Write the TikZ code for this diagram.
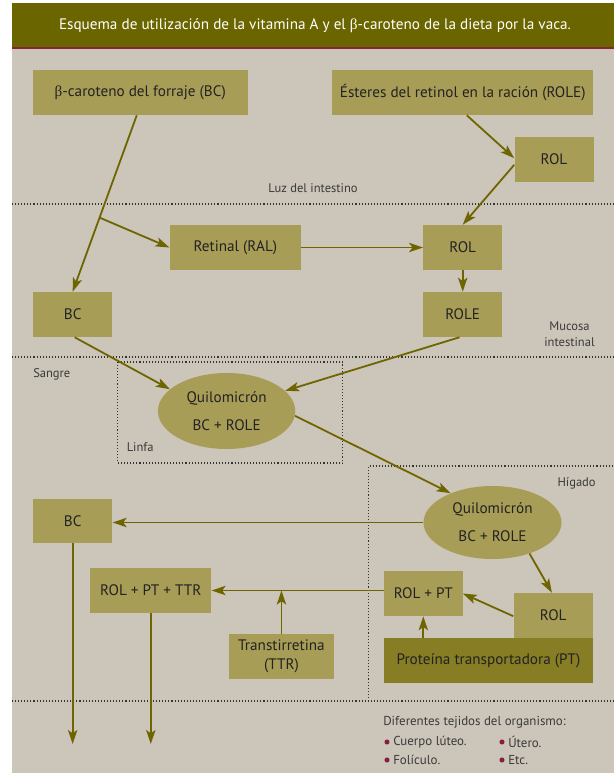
\documentclass[tikz,border=0pt]{standalone}
\usepackage{fontspec}
\setmainfont{PT Sans}
\newfontfamily\grkfont{Liberation Serif}
\usetikzlibrary{arrows.meta,calc,shapes.geometric}
\definecolor{titlec}{HTML}{6B6500}
\definecolor{redc}{HTML}{8A2433}
\definecolor{bgc}{HTML}{CCC5B9}
\definecolor{boxc}{HTML}{A89D57}
\definecolor{ptc}{HTML}{877D24}
\definecolor{arrc}{HTML}{6E6500}
\definecolor{txtc}{HTML}{222222}
\definecolor{lblc}{HTML}{3A3A3A}
\definecolor{dotc}{HTML}{333333}
\definecolor{bulc}{HTML}{8B1E3F}
\newcommand\betachar{{\grkfont β}}
\begin{document}
\begin{tikzpicture}[x=0.75pt,y=-0.75pt,
  boxn/.style={rectangle, fill=boxc, text=txtc, inner sep=0pt, align=center,
    minimum height=33.75pt, font=\fontsize{11.4}{14.25}\selectfont},
  elln/.style={ellipse, fill=boxc, text=txtc, inner sep=0pt, align=center,
    font=\fontsize{11.4}{13}\selectfont},
  arr/.style={draw=arrc, line width=1.35pt, -{Stealth[length=10.5pt,width=7pt,inset=2.5pt]}},
  lbl/.style={text=lblc, inner sep=0pt, font=\fontsize{9.4}{12}\selectfont},
  leg/.style={text=lblc, inner sep=0pt, anchor=west, font=\fontsize{9.7}{12}\selectfont},
  dotline/.style={draw=dotc, line width=0.8pt, dash pattern=on 0.8pt off 1.5pt},
  bul/.style={circle, fill=bulc, inner sep=0pt, minimum size=3.8pt}
]
\useasboundingbox (0,0) rectangle (614,773);
% background
\fill[bgc] (12,49.5) rectangle (614,773);
\fill[titlec] (12,3) rectangle (614,47);
\fill[redc] (12,47) rectangle (614,49.5);
\node[text=white, inner sep=0pt, font=\fontsize{11.4}{13}\selectfont] (title) at (315,26)
  {Esquema de utilización de la vitamina A y el \betachar-caroteno de la dieta por la vaca.};

% dotted separators
\draw[dotline] (12,204) -- (614,204);
\draw[dotline] (12,357) -- (614,357);
\draw[dotline] (12,701) -- (614,701);
\draw[dotline] (117.8,362) rectangle (342.5,463);
\draw[dotline] (368.4,701) -- (368.4,466) -- (614,466);

% labels
\node[lbl] (luz) at (313,188) {Luz del intestino};
\node[lbl, align=center] (muc) at (569.5,334) {Mucosa\\intestinal};
\node[lbl, anchor=west] (sangre) at (33,374) {Sangre};
\node[lbl, anchor=west] (linfa) at (126.5,447) {Linfa};
\node[lbl] (higado) at (576.6,483) {Hígado};

% boxes
\node[boxn, minimum width=160.9pt] (bcf) at (140.25,92.5) {\betachar-caroteno del forraje (BC)};
\node[boxn, minimum width=196.1pt] (est) at (462.75,92.5) {Ésteres del retinol en la ración (ROLE)};
\node[boxn, minimum width=59.25pt] (rol1) at (554,159.5) {ROL};
\node[boxn, minimum width=98.5pt] (ral) at (235.35,247.5) {Retinal (RAL)};
\node[boxn, minimum width=59pt] (rol2) at (462.7,247.5) {ROL};
\node[boxn, minimum width=59.5pt] (bc1) at (72.65,314.5) {BC};
\node[boxn, minimum width=59pt] (role) at (462.7,314.5) {ROLE};
\node[elln, minimum width=103pt, minimum height=57pt] (ell1) at (226.6,411) {Quilomicrón\\[8pt]BC + ROLE};
\node[elln, minimum width=103.5pt, minimum height=54.75pt] (ell2) at (492.5,522.5) {Quilomicrón\\[8pt]BC + ROLE};
\node[boxn, minimum width=59.5pt, minimum height=33pt] (bc2) at (72.65,521) {BC};
\node[boxn, minimum width=90.75pt] (rpt3) at (150.8,590.5) {ROL + PT + TTR};
\node[boxn, minimum width=58.8pt] (rpt) at (423.3,593.5) {ROL + PT};
\node[boxn, minimum width=78.7pt] (ttr) at (281.45,656.5) {Transtirretina\\(TTR)};
\node[boxn, minimum width=59.6pt] (rol3) at (553.25,615.5) {ROL};
\node[boxn, fill=ptc, minimum width=156.75pt] (pt) at (488.5,660.5) {Proteína transportadora (PT)};

% connectors
\draw[arr] ([xshift=3pt]est.south) -- ([yshift=1pt]rol1.west);
\draw[arr] ([yshift=-4pt]rol1.west) -- (rol2.north);
\coordinate (bcs) at ([xshift=-2.6pt]bcf.south);
\draw[arr] (bcs) -- (bc1.north);
\coordinate (br) at ($(bcs)!0.58!(bc1.north)$);
\draw[arr] (br) -- (ral.west);
\draw[arr] (ral.east) -- (rol2.west);
\draw[arr] (rol2.south) -- (role.north);
\draw[arr] ([xshift=1.5pt]bc1.south) -- (ell1.159);
\draw[arr] ([xshift=-2.4pt]role.south) -- (ell1.19);
\draw[arr] (ell1.-4) -- (ell2.145);
\draw[arr] (ell2.west) -- (ell2.west -| bc2.east);
\draw[arr] (ell2.-40) -- ([xshift=-1pt]rol3.north);
\draw[arr] ([yshift=-0.5pt]rol3.west) -- (rpt.east);
\draw[arr] (rpt.south |- pt.north) -- (rpt.south);
\draw[arr] (rpt3.east -| rpt.west) -- (rpt3.east);
\draw[arr] (ttr.north) -- (ttr.north |- rpt3.east);
\coordinate (endA) at (72.3,744);
\coordinate (endB) at (150.8,744);
\draw[arr] (bc2.south) -- (bc2.south |- endA);
\draw[arr] (rpt3.south) -- (rpt3.south |- endB);

% legend
\node[leg] (dif) at (383,722) {Diferentes tejidos del organismo:};
\node[bul] (b1) at (387,742) {};
\node[leg] (t1) at (393,742) {Cuerpo lúteo.};
\node[bul] (b2) at (502,742) {};
\node[leg] (t2) at (508,742) {Útero.};
\node[bul] (b3) at (387,760) {};
\node[leg] (t3) at (393,760) {Folículo.};
\node[bul] (b4) at (502,760) {};
\node[leg] (t4) at (508,760) {Etc.};
\end{tikzpicture}
\end{document}
